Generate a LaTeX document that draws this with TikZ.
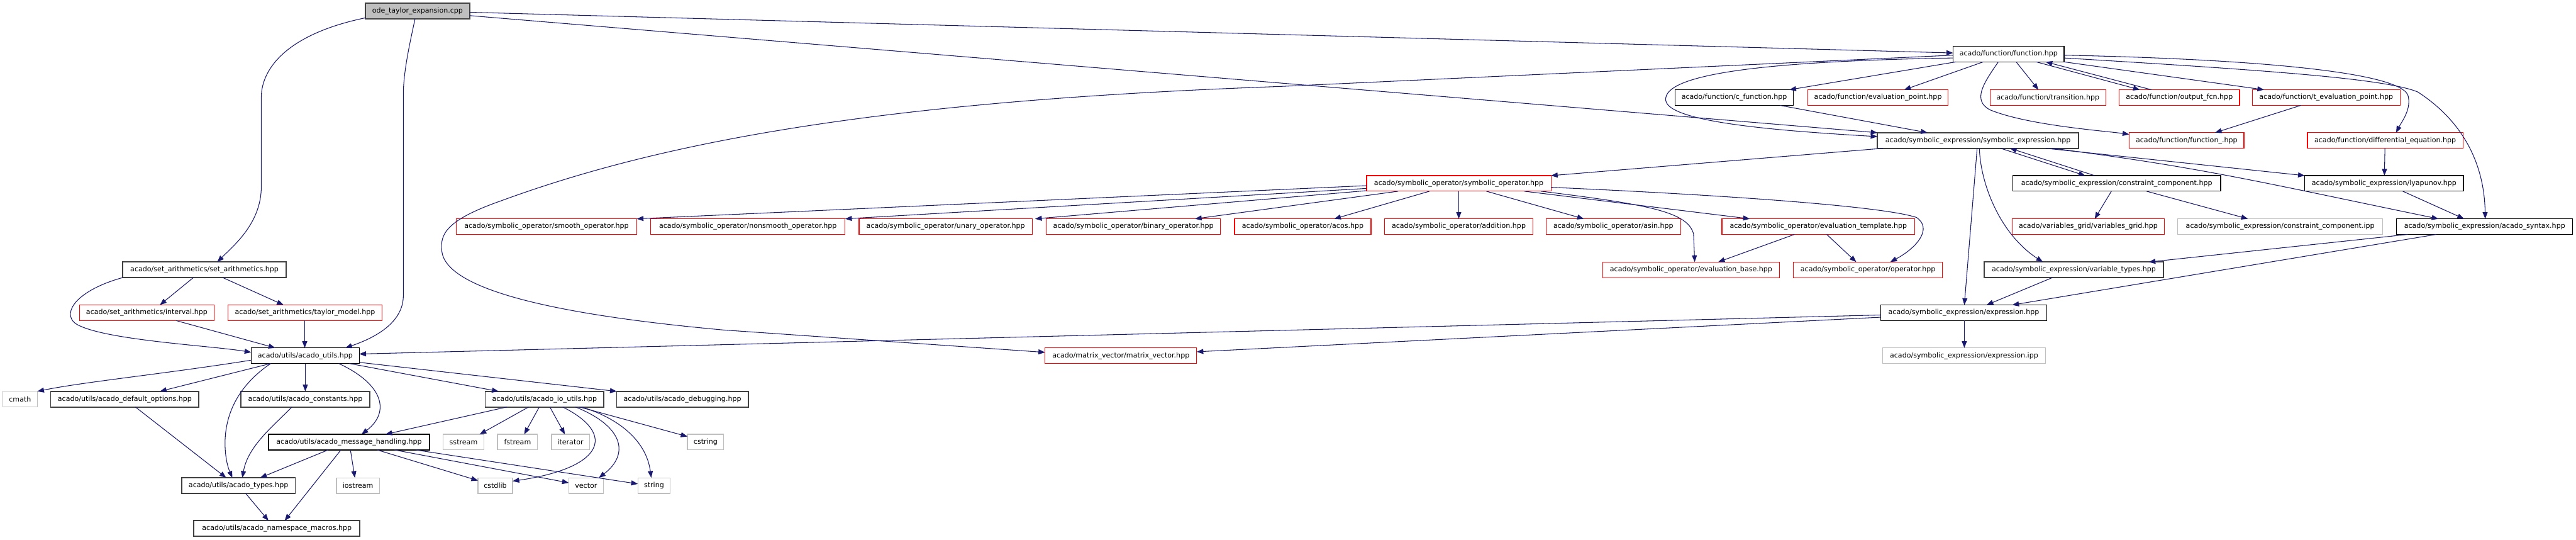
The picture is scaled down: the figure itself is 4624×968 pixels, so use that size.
\documentclass[tikz,border=0pt]{standalone}
\usepackage{fontspec}
\setmainfont{DejaVu Sans}
\usetikzlibrary{arrows.meta}
\definecolor{edgec}{HTML}{191970}
\definecolor{grayb}{HTML}{BFBFBF}
\definecolor{darkb}{HTML}{404040}
\definecolor{redb}{HTML}{FF0000}
\begin{document}
\begin{tikzpicture}[x=1pt,y=-1pt,
  nd/.style={rectangle, minimum height=28pt, inner sep=0pt, outer sep=0pt, font=\fontsize{12.5}{15}\selectfont, text=black, fill=white},
  kbox/.style={nd, draw=black, line width=1.5pt},
  dbox/.style={nd, draw=darkb, line width=2pt},
  rbox/.style={nd, draw=redb, line width=1.4pt},
  gbox/.style={nd, draw=grayb, line width=1.4pt},
  dep/.style={draw=edgec, line width=1.2pt, -{Triangle[length=12pt,width=9pt]}}]
\useasboundingbox[fill=white] (0,0) rectangle (4624,968);
% row 0/1
\node[dbox, fill=grayb, minimum width=187pt] (ode) at (749.5,20) {ode\_taylor\_expansion.cpp};
\node[kbox, minimum width=199pt] (fn) at (3605.5,97) {acado/function/function.hpp};
% row 2
\node[kbox, minimum width=212pt] (cf) at (3113,175) {acado/function/c\_function.hpp};
\node[rbox, minimum width=252pt] (ep) at (3371,175) {acado/function/evaluation\_point.hpp};
\node[rbox, minimum width=208pt] (tr) at (3676,175) {acado/function/transition.hpp};
\node[rbox, minimum width=216pt] (of) at (3912,175) {acado/function/output\_fcn.hpp};
\node[rbox, minimum width=265pt] (tep) at (4175.5,175) {acado/function/t\_evaluation\_point.hpp};
% row 3
\node[dbox, minimum width=361pt] (se) at (3550.5,252) {acado/symbolic\_expression/symbolic\_expression.hpp};
\node[rbox, minimum width=206pt] (ff) at (3925,252) {acado/function/function\_.hpp};
\node[rbox, minimum width=279pt] (de) at (4281.5,252) {acado/function/differential\_equation.hpp};
% row 4
\node[rbox, minimum width=331pt] (so) at (2618.5,329) {acado/symbolic\_operator/symbolic\_operator.hpp};
\node[kbox, minimum width=373pt] (cc) at (3799.5,329) {acado/symbolic\_expression/constraint\_component.hpp};
\node[kbox, minimum width=285pt] (ly) at (4279.5,329) {acado/symbolic\_expression/lyapunov.hpp};
% row 5
\node[rbox, minimum width=324pt] (sm) at (981,406.5) {acado/symbolic\_operator/smooth\_operator.hpp};
\node[rbox, minimum width=349pt] (ns) at (1342.5,406.5) {acado/symbolic\_operator/nonsmooth\_operator.hpp};
\node[rbox, minimum width=311pt] (un) at (1697.5,406.5) {acado/symbolic\_operator/unary\_operator.hpp};
\node[rbox, minimum width=313pt] (bi) at (2034.5,406.5) {acado/symbolic\_operator/binary\_operator.hpp};
\node[rbox, minimum width=245pt] (ac) at (2338.5,406.5) {acado/symbolic\_operator/acos.hpp};
\node[rbox, minimum width=267pt] (ad) at (2618.5,406.5) {acado/symbolic\_operator/addition.hpp};
\node[rbox, minimum width=242pt] (asn) at (2896,406.5) {acado/symbolic\_operator/asin.hpp};
\node[rbox, minimum width=346pt] (et) at (3264,406.5) {acado/symbolic\_operator/evaluation\_template.hpp};
\node[rbox, minimum width=273pt] (vg) at (3748.5,406.5) {acado/variables\_grid/variables\_grid.hpp};
\node[gbox, minimum width=368pt] (ci) at (4093,406.5) {acado/symbolic\_expression/constraint\_component.ipp};
\node[kbox, minimum width=316pt] (syn) at (4460,406.5) {acado/symbolic\_expression/acado\_syntax.hpp};
% row 6
\node[dbox, minimum width=294pt] (sa) at (367,484) {acado/set\_arithmetics/set\_arithmetics.hpp};
\node[rbox, minimum width=317pt] (eb) at (3035.5,484) {acado/symbolic\_operator/evaluation\_base.hpp};
\node[rbox, minimum width=268pt] (op) at (3353,484) {acado/symbolic\_operator/operator.hpp};
\node[dbox, minimum width=321pt] (vt) at (3722.5,484) {acado/symbolic\_expression/variable\_types.hpp};
% row 7
\node[rbox, minimum width=241pt] (iv) at (263.5,561) {acado/set\_arithmetics/interval.hpp};
\node[rbox, minimum width=277pt] (tm) at (547.5,561) {acado/set\_arithmetics/taylor\_model.hpp};
\node[kbox, minimum width=298pt] (ex) at (3525,561) {acado/symbolic\_expression/expression.hpp};
% row 8
\node[kbox, minimum width=194pt] (au) at (548,638) {acado/utils/acado\_utils.hpp};
\node[rbox, minimum width=272pt] (mv) at (2012,638) {acado/matrix\_vector/matrix\_vector.hpp};
\node[gbox, minimum width=293pt] (ei) at (3525.5,638) {acado/symbolic\_expression/expression.ipp};
% row 9
\node[gbox, minimum width=62pt] (cm) at (36,716) {cmath};
\node[dbox, minimum width=266pt] (dop) at (224,716) {acado/utils/acado\_default\_options.hpp};
\node[dbox, minimum width=232pt] (co) at (548,716) {acado/utils/acado\_constants.hpp};
\node[dbox, minimum width=213pt] (io) at (977.5,716) {acado/utils/acado\_io\_utils.hpp};
\node[dbox, minimum width=236pt] (db) at (1225,716) {acado/utils/acado\_debugging.hpp};
% row 10
\node[kbox, minimum width=289pt] (mh) at (626.5,793) {acado/utils/acado\_message\_handling.hpp};
\node[gbox, minimum width=74pt] (ss) at (832,793) {sstream};
\node[gbox, minimum width=72pt] (fs) at (929,793) {fstream};
\node[gbox, minimum width=68pt] (it) at (1024,793) {iterator};
\node[gbox, minimum width=65pt] (cs) at (1266.5,793) {cstring};
% row 11
\node[dbox, minimum width=204pt] (at) at (428,871) {acado/utils/acado\_types.hpp};
\node[gbox, minimum width=77pt] (ios) at (642.5,871) {iostream};
\node[gbox, minimum width=62pt] (cl) at (889,871) {cstdlib};
\node[gbox, minimum width=62pt] (vc) at (1052,871) {vector};
\node[gbox, minimum width=58pt] (st) at (1174,871) {string};
% row 12
\node[dbox, minimum width=298pt] (nm) at (497,948) {acado/utils/acado\_namespace\_macros.hpp};

% ---------- edges ----------
% from ode
\draw[dep] (ode.west |- 0,32) .. controls (520,60) and (469,120) .. (469,175) -- (469,335) .. controls (469,400) and (420,440) .. (390,0 |- sa.north);
\draw[dep] (745,0 |- ode.south) .. controls (735,80) and (724,130) .. (724,170) -- (724,530) .. controls (724,570) and (690,600) .. (620,0 |- au.north);
\draw[dep] (ode.east |- 0,22) -- (fn.west |- 0,95);
\draw[dep] (ode.east |- 0,28) -- (se.north west);
% from function
\draw[dep] (fn.west |- 0,99) -- (2300,155) .. controls (1600,180) and (1200,250) .. (900,360) .. controls (800,395) and (790,420) .. (793,450) .. controls (800,520) and (1000,565) .. (1300,592) -- (mv.west |- 0,632);
\draw[dep] (3511,0 |- fn.south) -- (3212,0 |- cf.north);
\draw[dep] (fn.west |- 0,104) .. controls (3150,110) and (2985,135) .. (2990,180) .. controls (2995,220) and (3200,235) .. (se.west |- 0,245);
\draw[dep] (3560,0 |- fn.south) -- (3418,0 |- ep.north);
\draw[dep] (3619,0 |- fn.south) -- (3659,0 |- tr.north);
\draw[dep] (3655,0 |- fn.south) -- (3841,0 |- of.north);
\draw[dep] (3862,0 |- of.north) -- (3672,0 |- fn.south);
\draw[dep] (fn.south east) -- (4064,0 |- tep.north);
\draw[dep] (3587,0 |- fn.south) .. controls (3560,150) and (3540,180) .. (3572,197) .. controls (3640,225) and (3780,235) .. (ff.west |- 0,241);
\draw[dep] (4130,0 |- tep.south) -- (3976,0 |- ff.north);
\draw[dep] (fn.east |- 0,99) .. controls (4000,105) and (4300,125) .. (4322,170) .. controls (4330,195) and (4310,220) .. (4301,0 |- de.north);
\draw[dep] (fn.east |- 0,104) .. controls (4050,125) and (4280,140) .. (4340,165) .. controls (4440,230) and (4460,320) .. (4461,0 |- syn.north);
\draw[dep] (3195,0 |- cf.south) -- (3460,0 |- se.north);
% differential / lyapunov
\draw[dep] (4281,0 |- de.south) -- (4280,0 |- ly.north);
\draw[dep] (4313,0 |- ly.south) -- (4423,0 |- syn.north);
% symbolic expression
\draw[dep] (3672,0 |- se.south) -- (ly.north west);
\draw[dep] (3684,0 |- se.south) .. controls (3950,300) and (4050,325) .. (4377,0 |- syn.north);
\draw[dep] (3591,0 |- se.south) -- (3743,0 |- cc.north);
\draw[dep] (3760,0 |- cc.north) -- (3608,0 |- se.south);
\draw[dep] (3549,0 |- se.south) -- (3526,0 |- ex.north);
\draw[dep] (3553,0 |- se.south) .. controls (3555,330) and (3590,420) .. (3667,0 |- vt.north);
\draw[dep] (3380,0 |- se.south) -- (so.north east);
% constraint component
\draw[dep] (3790,0 |- cc.south) -- (3760,0 |- vg.north);
\draw[dep] (3853,0 |- cc.south) -- (4035,0 |- ci.north);
% acado syntax
\draw[dep] (4322,0 |- syn.south) -- (3857,0 |- vt.north);
\draw[dep] (4373,0 |- syn.south) -- (3612,0 |- ex.north);
\draw[dep] (3684,0 |- vt.south) -- (3566,0 |- ex.north);
% expression
\draw[dep] (3526,0 |- ex.south) -- (3526,0 |- ei.north);
\draw[dep] (ex.west |- 0,565) -- (au.east |- 0,635);
\draw[dep] (ex.west |- 0,569) -- (mv.east |- 0,631);
% symbolic operator
\draw[dep] (so.west |- 0,333) -- (sm.north east);
\draw[dep] (so.west |- 0,338) -- (ns.north east);
\draw[dep] (so.west |- 0,342) -- (1858,0 |- un.north);
\draw[dep] (2510,0 |- so.south) -- (2145,0 |- bi.north);
\draw[dep] (2566,0 |- so.south) -- (2395,0 |- ac.north);
\draw[dep] (so.south) -- (ad.north);
\draw[dep] (2668,0 |- so.south) -- (2843,0 |- asn.north);
\draw[dep] (2736,0 |- so.south) -- (3141,0 |- et.north);
\draw[dep] (2766,0 |- so.south) .. controls (2960,367) and (3030,380) .. (3040,420) -- (3042,0 |- eb.north);
\draw[dep] (so.east |- 0,336) .. controls (3100,350) and (3380,370) .. (3440,390) .. controls (3470,410) and (3440,445) .. (3393,0 |- op.north);
\draw[dep] (3221,0 |- et.south) -- (3084,0 |- eb.north);
\draw[dep] (3279,0 |- et.south) -- (3332,0 |- op.north);
% set arithmetics
\draw[dep] (347,0 |- sa.south) -- (287,0 |- iv.north);
\draw[dep] (400,0 |- sa.south) -- (509,0 |- tm.north);
\draw[dep] (sa.south west) .. controls (140,520) and (110,560) .. (135,580) .. controls (180,610) and (380,620) .. (au.west |- 0,632);
\draw[dep] (316,0 |- iv.south) -- (494,0 |- au.north);
\draw[dep] (547,0 |- tm.south) -- (547,0 |- au.north);
% acado utils
\draw[dep] (au.west |- 0,646) .. controls (300,670) and (150,685) .. (cm.north east);
\draw[dep] (486,0 |- au.south) -- (287,0 |- dop.north);
\draw[dep] (486,0 |- au.south) .. controls (415,700) and (403,760) .. (404,800) .. controls (405,830) and (412,845) .. (417,0 |- at.north);
\draw[dep] (au.south) -- (co.north);
\draw[dep] (608,0 |- au.south) .. controls (690,690) and (700,740) .. (649,0 |- mh.north);
\draw[dep] (627,0 |- au.south) -- (895,0 |- io.north);
\draw[dep] (au.east |- 0,650) -- (db.north west);
\draw[dep] (243,0 |- dop.south) -- (406,0 |- at.north);
\draw[dep] (524,0 |- co.south) .. controls (490,765) and (445,800) .. (435,0 |- at.north);
% message handling
\draw[dep] (589,0 |- mh.south) -- (467,0 |- at.north);
\draw[dep] (612,0 |- mh.south) -- (511,0 |- nm.north);
\draw[dep] (629,0 |- mh.south) -- (637,0 |- ios.north);
\draw[dep] (677,0 |- mh.south) -- (cl.west |- 0,862);
\draw[dep] (708,0 |- mh.south) -- (vc.west |- 0,866);
\draw[dep] (746,0 |- mh.south) -- (st.west |- 0,868);
\draw[dep] (441,0 |- at.south) -- (482,0 |- nm.north);
% io utils
\draw[dep] (910,0 |- io.south) -- (692,0 |- mh.north);
\draw[dep] (949,0 |- io.south) -- (861,0 |- ss.north);
\draw[dep] (968,0 |- io.south) -- (941,0 |- fs.north);
\draw[dep] (987,0 |- io.south) -- (1014,0 |- it.north);
\draw[dep] (1010,0 |- io.south) .. controls (1110,780) and (1080,840) .. (cl.east |- 0,863);
\draw[dep] (1033,0 |- io.south) .. controls (1120,765) and (1130,815) .. (1075,0 |- vc.north);
\draw[dep] (1044,0 |- io.south) .. controls (1110,750) and (1160,790) .. (1169,0 |- st.north);
\draw[dep] (1040,0 |- io.south) -- (cs.west |- 0,783);
\end{tikzpicture}
\end{document}
